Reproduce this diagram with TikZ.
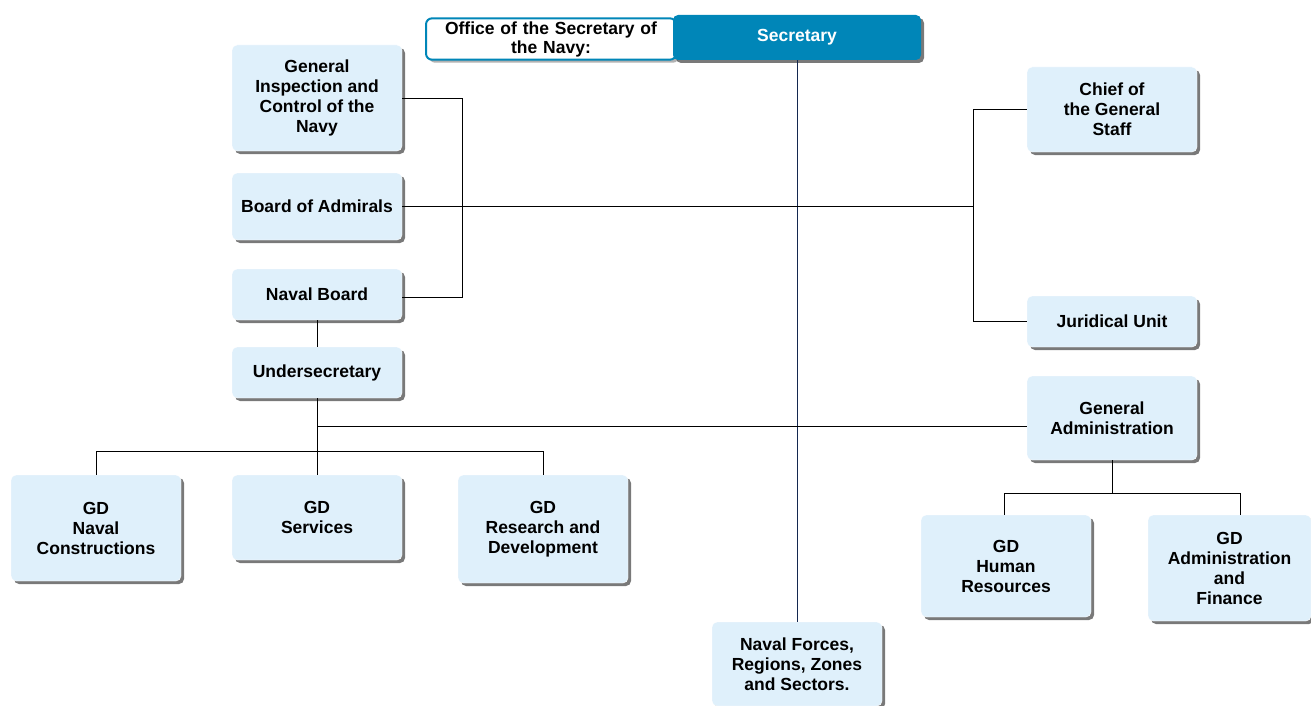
\documentclass[tikz,border=0pt]{standalone}
\usepackage{fontspec}
\setmainfont{Liberation Sans}
\usetikzlibrary{shadows}
\definecolor{boxblue}{RGB}{223,240,251}
\definecolor{secblue}{RGB}{0,134,184}
\definecolor{navyline}{RGB}{20,40,80}

\begin{document}
\begin{tikzpicture}[x=1pt, y=-1pt,
  unit/.style={draw=white, fill=boxblue, rounded corners=5pt, minimum width=170pt,
    align=center, font=\bfseries\fontsize{17.5}{20}\selectfont,
    drop shadow={shadow xshift=3pt, shadow yshift=-3pt, opacity=.7, fill=black!75}},
  link/.style={-, semithick}]

\useasboundingbox (0,0) rectangle (1311,706);

\node[draw=secblue, line width=2pt, fill=white, rounded corners=6pt, text width=236pt, align=center,
  inner xsep=7pt, inner ysep=3pt, font=\bfseries\fontsize{17.5}{19}\selectfont,
  drop shadow={shadow xshift=3pt, shadow yshift=-3pt, opacity=.5, fill=black!60}]
  (n1) at (551,39) {Office of the Secretary of\\the Navy:};
\node[fill=secblue, text=white, rounded corners=5pt, minimum width=248pt, minimum height=45pt,
  font=\bfseries\fontsize{17.5}{20}\selectfont,
  drop shadow={shadow xshift=3pt, shadow yshift=-3pt, opacity=.7, fill=black!75}]
  (n2) at (797,37.5) {Secretary};

\node[unit, minimum height=106pt] (n3) at (317,98) {General\\Inspection and\\Control of the\\Navy};
\node[unit, minimum height=67pt] (n4) at (317,206.5) {Board of Admirals};
\node[unit, minimum height=51pt] (n5) at (317,294.5) {Naval Board};
\node[unit, minimum height=51pt] (n6) at (317,372.5) {Undersecretary};

\node[unit, minimum height=85pt] (n7) at (1112,109.5) {Chief of\\the General\\Staff};
\node[unit, minimum height=51pt] (n8) at (1112,321.5) {Juridical Unit};

\node[unit, minimum height=106pt] (n9) at (96,528) {GD\\Naval\\Constructions};
\node[unit, minimum height=85pt] (n10) at (317,517.5) {GD\\Services};
\node[unit, minimum height=108pt] (n11) at (543,529) {GD\\Research and\\Development};

\node[unit, minimum height=84pt] (n12) at (1112,418) {General\\Administration};
\node[unit, minimum height=102pt] (n13) at (1006,566) {GD\\Human\\Resources};
\node[unit, minimum width=163pt, minimum height=106pt] (n14) at (1229.5,568) {GD\\Administration\\and\\Finance};

\node[unit, minimum height=84pt] (n15) at (797,664) {Naval Forces,\\Regions, Zones\\and Sectors.};

% links
\draw[link, navyline, thick] (n2.south) -- (n15.north);

\draw[link] (n3.east) -- ++(60,0) |- ([yshift=-2.5pt]n5.east);
\draw[link] (n4.east) -- ([xshift=-54pt]n4.east -| n7.west);
\draw[link] (n7.west) -- ++(-54,0) |- (n8.west);

\draw[link] (n5.south) -- (n6.north);
\draw[link] (n6.south) -- (n10.north);
\draw[link] (n6.south |- n12.west) ++(0,8) -- ([yshift=-8pt]n12.west);
\draw[link] (n10.north) ++(0,-24) coordinate (t1) -| (n9.north);
\draw[link] (t1) -| (n11.north);

\draw[link] (n12.south) -- ++(0,33) coordinate (t2) -| ([xshift=-2pt]n13.north);
\draw[link] (t2) -| ([xshift=10.5pt]n14.north);

\end{tikzpicture}
\end{document}
